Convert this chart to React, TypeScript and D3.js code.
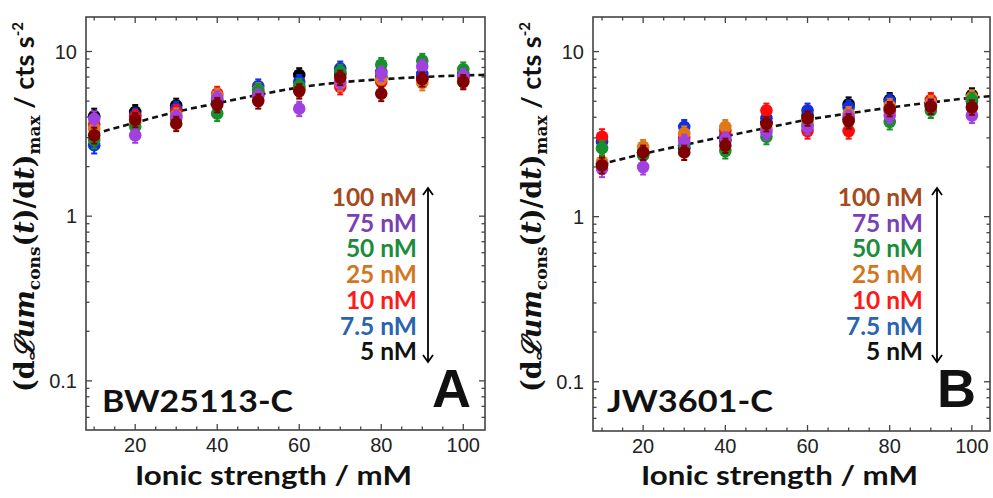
import React, { useEffect, useRef } from "react";
import * as d3 from "d3";

// ---- data ----
const ionic = [10, 20, 30, 40, 50, 60, 70, 80, 90, 100];
const concLabels = ["5 nM", "7.5 nM", "10 nM", "25 nM", "50 nM", "75 nM", "100 nM"];
const markerColors = ["#000000", "#1030e0", "#ff0a0a", "#e07818", "#15902a", "#a040e0", "#800000"];
const legendColors = ["#111111", "#2a64ae", "#ff1a1a", "#d4761e", "#1a8c3a", "#7b3fb5", "#a64a1e"];

// Panel A (BW25113-C)
const a5 = [4.05, 4.3, 4.7, 5.0, 5.5, 7.2, 7.3, 7.0, 6.9, 7.0];
const a7_5 = [2.7, 4.1, 4.5, 4.9, 6.15, 6.55, 7.9, 7.5, 7.3, 7.3];
const a10 = [3.6, 4.0, 4.3, 5.55, 5.6, 6.0, 6.1, 6.55, 6.8, 6.8];
const a25 = [3.4, 3.7, 4.1, 5.4, 5.85, 5.9, 6.4, 6.8, 6.45, 6.6];
const a50 = [2.9, 3.5, 3.9, 4.2, 5.8, 6.2, 7.55, 8.3, 8.8, 7.8];
const a75 = [3.9, 3.1, 4.0, 5.2, 5.35, 4.5, 6.55, 7.35, 8.1, 7.1];
const a100 = [3.1, 3.85, 3.65, 4.75, 5.0, 5.75, 6.95, 5.55, 6.8, 6.55];
const fitAx = [10, 20, 30, 40, 50, 60, 70, 80, 90, 100, 105.3];
const fitAy = [3.16, 3.7, 4.3, 4.85, 5.45, 6.05, 6.49, 6.78, 7.0, 7.16, 7.21];

// Panel B (JW3601-C)
const b5 = [2.1, 2.45, 2.6, 2.9, 3.7, 4.1, 4.8, 5.1, 4.8, 5.45];
const b7_5 = [2.85, 2.4, 3.5, 3.1, 3.95, 4.4, 4.6, 5.0, 4.75, 5.0];
const b10 = [3.05, 2.45, 3.0, 3.3, 4.4, 3.3, 3.3, 4.4, 5.1, 5.2];
const b25 = [2.15, 2.65, 3.2, 3.5, 3.4, 3.8, 4.2, 4.7, 4.9, 5.3];
const b50 = [2.6, 2.35, 2.7, 2.5, 3.05, 3.6, 3.9, 3.75, 4.4, 5.1];
const b75 = [1.95, 2.0, 2.85, 2.95, 3.25, 3.5, 4.0, 4.1, 4.7, 4.1];
const b100 = [2.05, 2.45, 2.45, 2.7, 3.65, 3.95, 3.8, 4.5, 4.65, 4.6];
const fitBx = [9.5, 20, 30, 40, 50, 60, 70, 80, 90, 100, 104.4];
const fitBy = [2.07, 2.4, 2.72, 3.07, 3.45, 3.87, 4.22, 4.58, 4.92, 5.25, 5.37];

const relErr = [0.11, 0.1, 0.1, 0.1, 0.1, 0.1, 0.1, 0.1, 0.1, 0.1];

const xMajor = [20, 40, 60, 80, 100];
const yMajor = [0.1, 1, 10];
const yMajorLabels = ["0.1", "1", "10"];

const panels = [
  {
    series: [a5, a7_5, a10, a25, a50, a75, a100],
    fitX: fitAx, fitY: fitAy,
    strain: "BW25113-C", letter: "A",
    left: 86, right: 485, top: 17, bottom: 430,
    xDom: [8, 105.3],
  },
  {
    series: [b5, b7_5, b10, b25, b50, b75, b100],
    fitX: fitBx, fitY: fitBy,
    strain: "JW3601-C", letter: "B",
    left: 593, right: 990, top: 17, bottom: 431,
    xDom: [7.8, 104.4],
  },
];

export default function App() {
  const ref = useRef<SVGSVGElement>(null);
  useEffect(() => {
    const svg = d3.select(ref.current);
    svg.selectAll("*").remove();
    panels.forEach((p) => {
      const x = d3.scaleLinear().domain(p.xDom).range([p.left, p.right]);
      const y = d3.scaleLog().domain([0.0503, 16.2]).range([p.bottom, p.top]);
      const g = svg.append("g");
      const frameColor = "#444";

      g.append("rect").attr("x", p.left).attr("y", p.top)
        .attr("width", p.right - p.left).attr("height", p.bottom - p.top)
        .attr("fill", "white").attr("stroke", frameColor).attr("stroke-width", 1.6);

      const xt = d3.range(10, 105, 5);
      xt.forEach((v) => {
        const major = xMajor.includes(v);
        const L = major ? 6 : 3.5;
        g.append("line").attr("x1", x(v)).attr("x2", x(v)).attr("y1", p.bottom).attr("y2", p.bottom - L)
          .attr("stroke", frameColor).attr("stroke-width", 1.3);
        g.append("line").attr("x1", x(v)).attr("x2", x(v)).attr("y1", p.top).attr("y2", p.top + L)
          .attr("stroke", frameColor).attr("stroke-width", 1.3);
      });
      xMajor.forEach((v) => {
        g.append("text").attr("x", x(v)).attr("y", p.bottom + 22).attr("text-anchor", "middle")
          .attr("font-family", "Liberation Sans, Arial").attr("font-size", 20).attr("fill", "#222")
          .text(String(v));
      });

      const ticks: { v: number; major: boolean }[] = [];
      [0.01, 0.1, 1, 10].forEach((d) => {
        for (let k = 1; k <= 9; k++) {
          const v = d * k;
          if (v >= 0.0503 && v <= 16.2) ticks.push({ v, major: k === 1 });
        }
      });
      ticks.forEach(({ v, major }) => {
        const L = major ? 6 : 3.5;
        g.append("line").attr("x1", p.left).attr("x2", p.left + L).attr("y1", y(v)).attr("y2", y(v))
          .attr("stroke", frameColor).attr("stroke-width", 1.3);
        g.append("line").attr("x1", p.right).attr("x2", p.right - L).attr("y1", y(v)).attr("y2", y(v))
          .attr("stroke", frameColor).attr("stroke-width", 1.3);
      });
      yMajor.forEach((v, i) => {
        g.append("text").attr("x", p.left - 9).attr("y", y(v) + 7).attr("text-anchor", "end")
          .attr("font-family", "Liberation Sans, Arial").attr("font-size", 20).attr("fill", "#222")
          .text(yMajorLabels[i]);
      });

      const line = d3.line<number>().x((_, i) => x(p.fitX[i])).y((d) => y(d)).curve(d3.curveMonotoneX);
      g.append("path").attr("d", line(p.fitY)).attr("fill", "none").attr("stroke", "#111")
        .attr("stroke-width", 2.6).attr("stroke-dasharray", "6,4");

      p.series.forEach((s, si) => {
        const col = markerColors[si];
        s.forEach((v, i) => {
          const cx = x(ionic[i]);
          const lo = y(v * (1 - relErr[i]));
          const hi = y(v * (1 + relErr[i]));
          g.append("line").attr("x1", cx).attr("x2", cx).attr("y1", lo).attr("y2", hi)
            .attr("stroke", col).attr("stroke-width", 2);
          g.append("line").attr("x1", cx - 3).attr("x2", cx + 3).attr("y1", lo).attr("y2", lo)
            .attr("stroke", col).attr("stroke-width", 2);
          g.append("line").attr("x1", cx - 3).attr("x2", cx + 3).attr("y1", hi).attr("y2", hi)
            .attr("stroke", col).attr("stroke-width", 2);
          g.append("circle").attr("cx", cx).attr("cy", y(v)).attr("r", 6.3).attr("fill", col);
        });
      });

      const lx = p.letter === "A" ? 417 : 923;
      const ax = p.letter === "A" ? 428 : 937;
      const order = [6, 5, 4, 3, 2, 1, 0];
      order.forEach((si, k) => {
        g.append("text").attr("x", lx).attr("y", 206 + k * 25.7).attr("text-anchor", "end")
          .attr("font-family", "Lato, Open Sans, sans-serif").attr("font-weight", 700)
          .attr("font-size", 24.5).attr("fill", legendColors[si]).text(concLabels[si]);
      });
      g.append("line").attr("x1", ax).attr("x2", ax).attr("y1", 188).attr("y2", 362)
        .attr("stroke", "#000").attr("stroke-width", 1.8);
      g.append("path").attr("d", `M${ax - 5},${195} L${ax},${188} L${ax + 5},${195}`)
        .attr("fill", "none").attr("stroke", "#000").attr("stroke-width", 1.8);
      g.append("path").attr("d", `M${ax - 5},${355} L${ax},${362} L${ax + 5},${355}`)
        .attr("fill", "none").attr("stroke", "#000").attr("stroke-width", 1.8);

      g.append("text").attr("x", p.letter === "A" ? 102 : 607).attr("y", 412)
        .attr("font-family", "Lato, Open Sans, sans-serif").attr("font-weight", 700)
        .attr("font-size", 30).attr("fill", "#111")
        .attr("textLength", p.letter === "A" ? 191 : 166).attr("lengthAdjust", "spacingAndGlyphs")
        .text(p.strain);
      g.append("text").attr("x", p.right - 14).attr("y", 407).attr("text-anchor", "end")
        .attr("font-family", "Liberation Sans, Arial").attr("font-weight", 700)
        .attr("font-size", 54).attr("fill", "#111").text(p.letter);

      g.append("text").attr("x", (p.left + p.right) / 2 - 12).attr("y", 485).attr("text-anchor", "middle")
        .attr("font-family", "Lato, Open Sans, sans-serif").attr("font-weight", 700)
        .attr("font-size", 26).attr("fill", "#111")
        .attr("textLength", 277).attr("lengthAdjust", "spacingAndGlyphs")
        .text("Ionic strength / mM");

      const tx = p.left - 52;
      const t = g.append("text").attr("transform", `translate(${tx},207) rotate(-90)`)
        .attr("text-anchor", "middle").attr("fill", "#111").attr("font-size", 27)
        .attr("font-family", "DejaVu Serif, serif").attr("font-weight", 700);
      t.append("tspan").text("(d");
      t.append("tspan").attr("font-style", "italic").text("ℒum");
      t.append("tspan").attr("font-size", 17).attr("dy", 6).text("cons");
      t.append("tspan").attr("dy", -6).text("(");
      t.append("tspan").attr("font-style", "italic").text("t");
      t.append("tspan").text(")/d");
      t.append("tspan").attr("font-style", "italic").text("t");
      t.append("tspan").text(")");
      t.append("tspan").attr("font-size", 17).attr("dy", 6).text("max");
      t.append("tspan").attr("dy", -6).attr("font-family", "Lato, Open Sans, sans-serif").text(" / cts s");
      t.append("tspan").attr("font-family", "Lato, Open Sans, sans-serif").attr("font-size", 15).attr("dy", -11).text("-2");
    });
  }, []);
  return (
    <svg ref={ref} width={993} height={498} style={{ display: "block", position: "absolute", left: 0, top: 0, background: "white" }} />
  );
}
